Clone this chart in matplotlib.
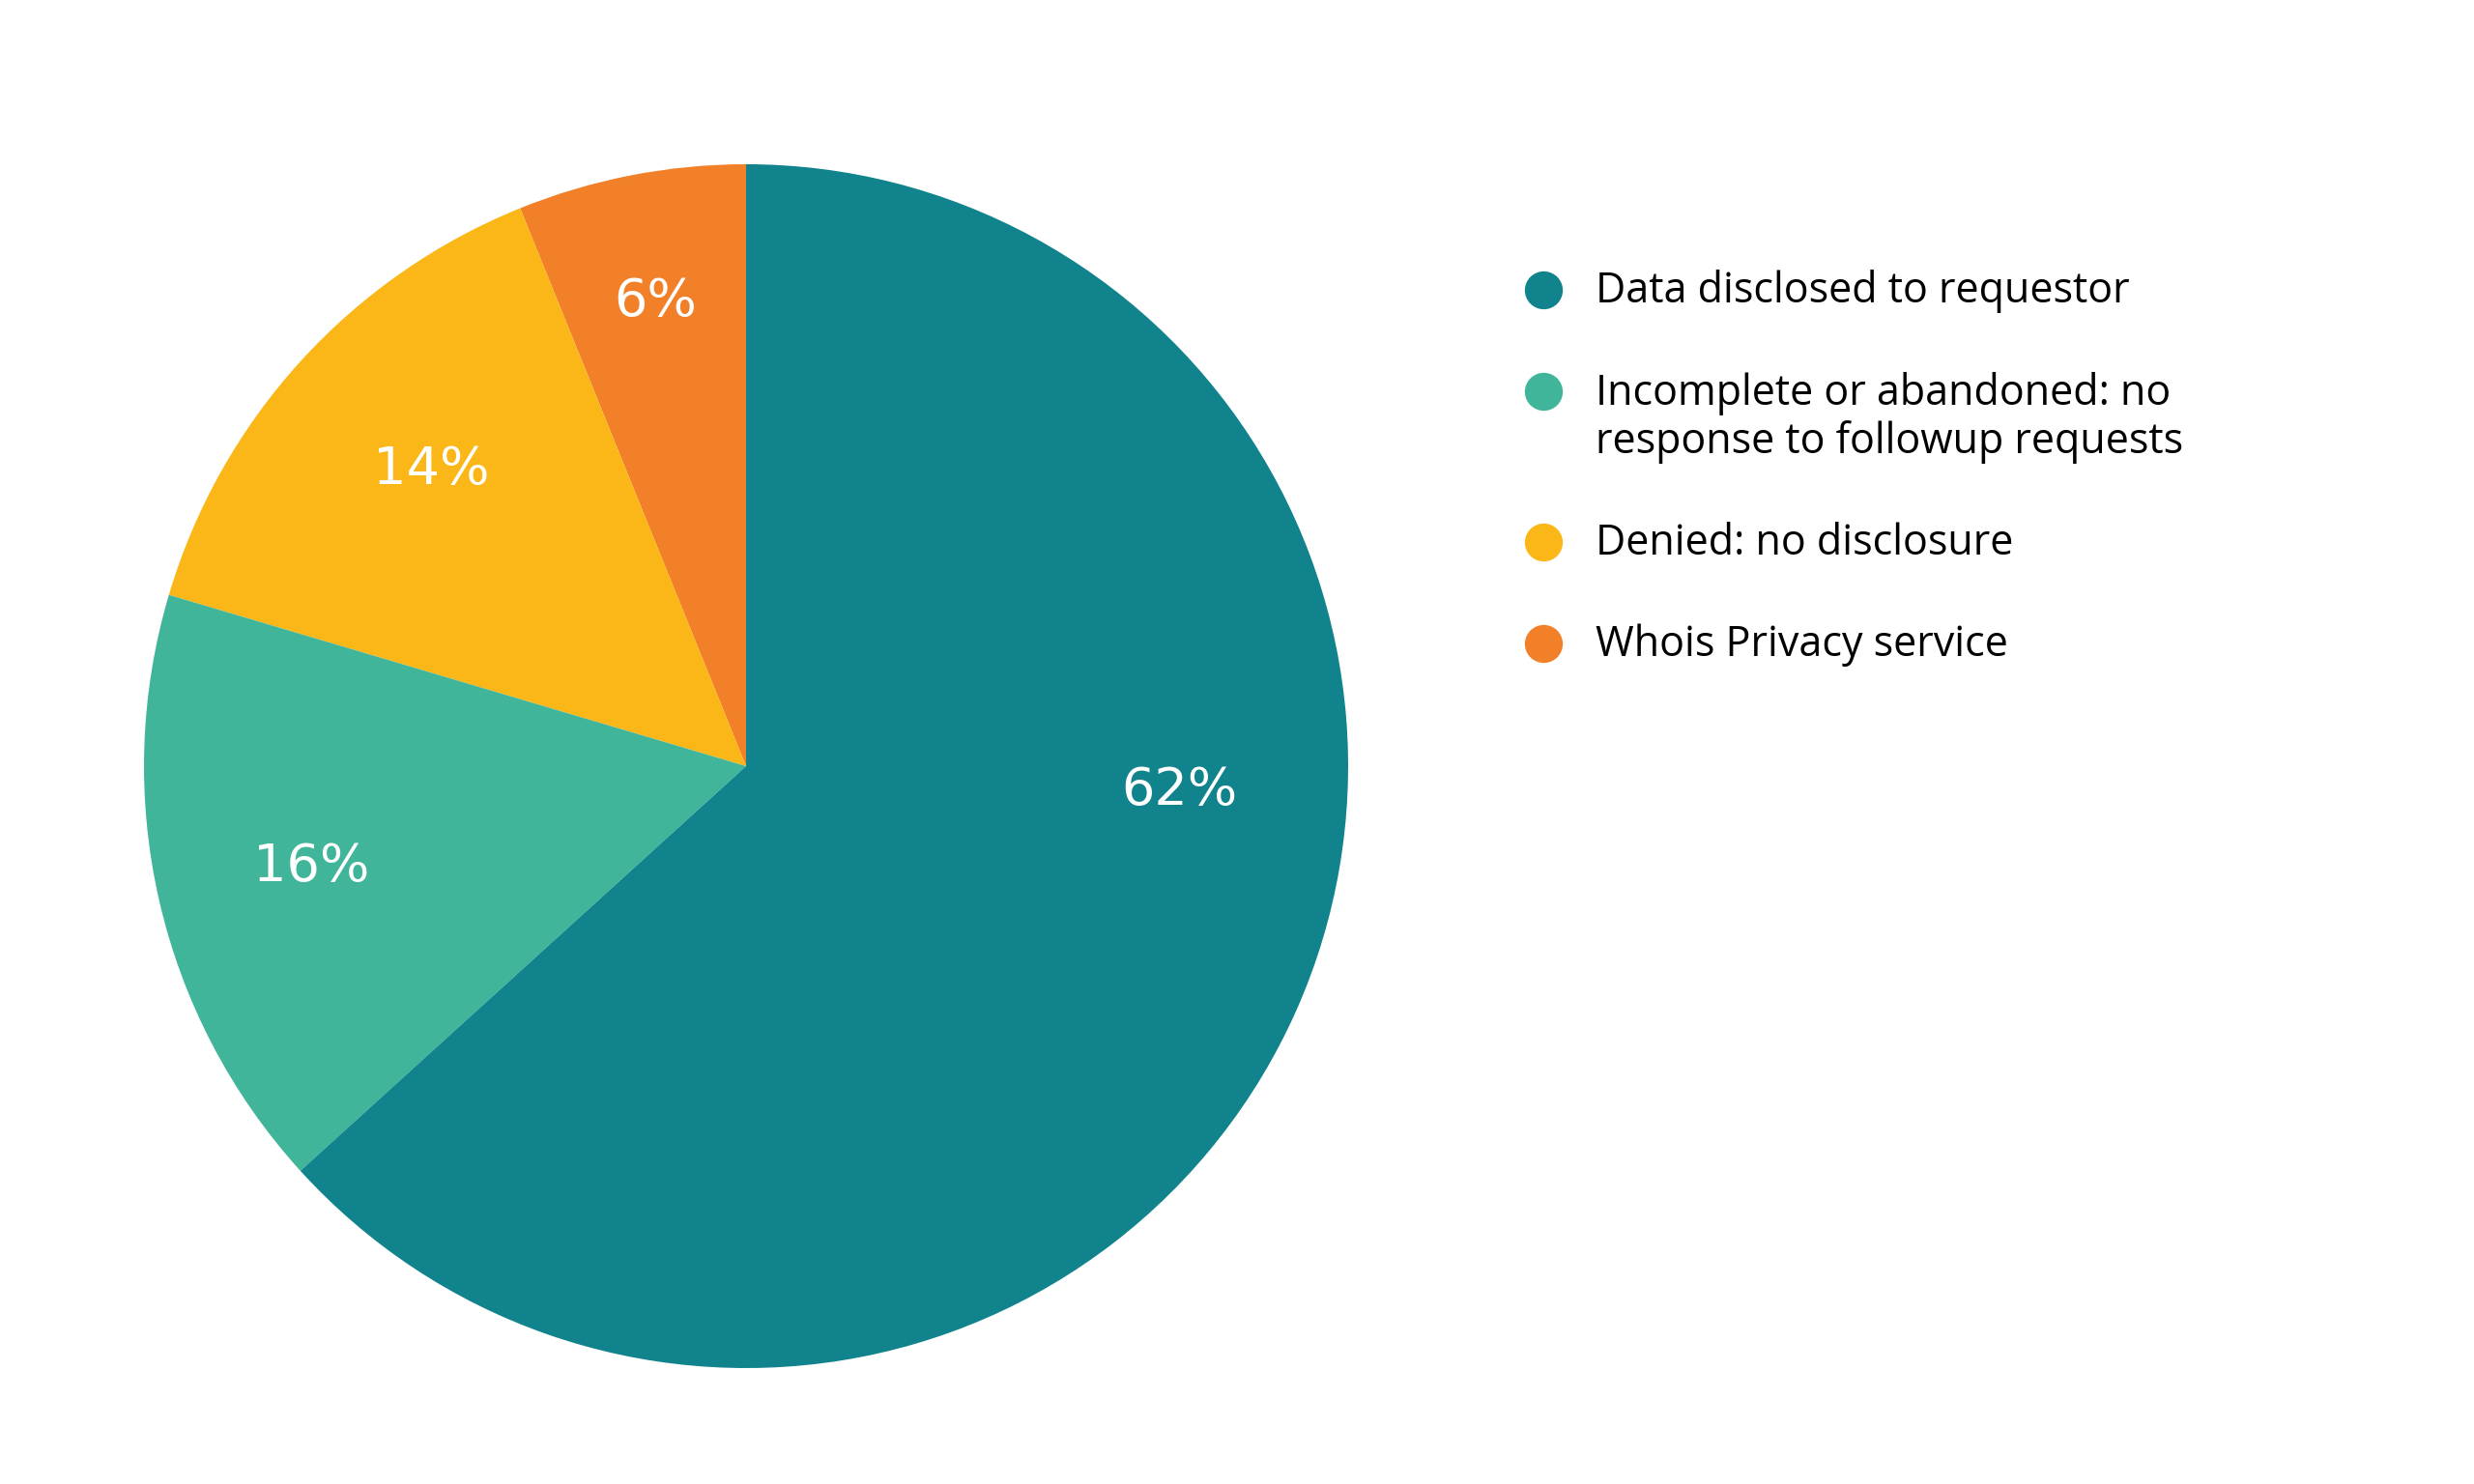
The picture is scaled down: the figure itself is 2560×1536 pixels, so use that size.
import matplotlib.pyplot as plt
import numpy as np

# wedge data, in drawing order (counter-clockwise from 12 o'clock)
shares = [6, 14, 16, 62]
pct_labels = ['6%', '14%', '16%', '62%']
colors = ['#F28028', '#FBB617', '#41B59A', '#10838D']

# legend, top to bottom
legend_labels = ['Data disclosed to requestor',
                 'Incomplete or abandoned: no\nresponse to followup requests',
                 'Denied: no disclosure',
                 'Whois Privacy service']
legend_colors = ['#10838D', '#41B59A', '#FBB617', '#F28028']

W, H = 2560, 1536
fig = plt.figure(figsize=(W / 100, H / 100), dpi=100)
fig.patch.set_facecolor('white')

# pie axes: centre in px from top-left, radius in px
cx, cy, r = 772, 793, 623
ax = fig.add_axes([(cx - r) / W, (H - cy - r) / H, 2 * r / W, 2 * r / H])
wedges, _ = ax.pie(shares, colors=colors, startangle=90, counterclock=True,
                   radius=1, wedgeprops=dict(linewidth=0))
ax.set_xlim(-1, 1)
ax.set_ylim(-1, 1)
ax.set_aspect('equal')
ax.axis('off')

# percentage labels near the middle of each wedge
label_r = [0.79, 0.72, 0.74, 0.72]
label_ang = [None, 136.5, None, -3]  # overrides where the original drifts off mid-angle
for i, w in enumerate(wedges):
    a = label_ang[i] if label_ang[i] is not None else (w.theta1 + w.theta2) / 2
    ang = np.deg2rad(a)
    ax.text(label_r[i] * np.cos(ang), label_r[i] * np.sin(ang) - 0.003, pct_labels[i],
            color='white', fontsize=39, ha='center', va='center',
            family='DejaVu Sans', fontweight='medium')

# hand-drawn legend on an overlay in pixel coords
lax = fig.add_axes([0, 0, 1, 1])
lax.set_xlim(0, W)
lax.set_ylim(H, 0)
lax.axis('off')
ys = [300, 405, 561, 666]
line_h = 51
for lab, col, y in zip(legend_labels, legend_colors, ys):
    lax.scatter([1597], [y], s=800, color=col, linewidths=0)
    for k, line in enumerate(lab.split('\n')):
        lax.text(1651, y + k * line_h + 2, line, fontsize=31, family='Open Sans',
                 va='center', ha='left')

fig.savefig('out.png', dpi=100)
